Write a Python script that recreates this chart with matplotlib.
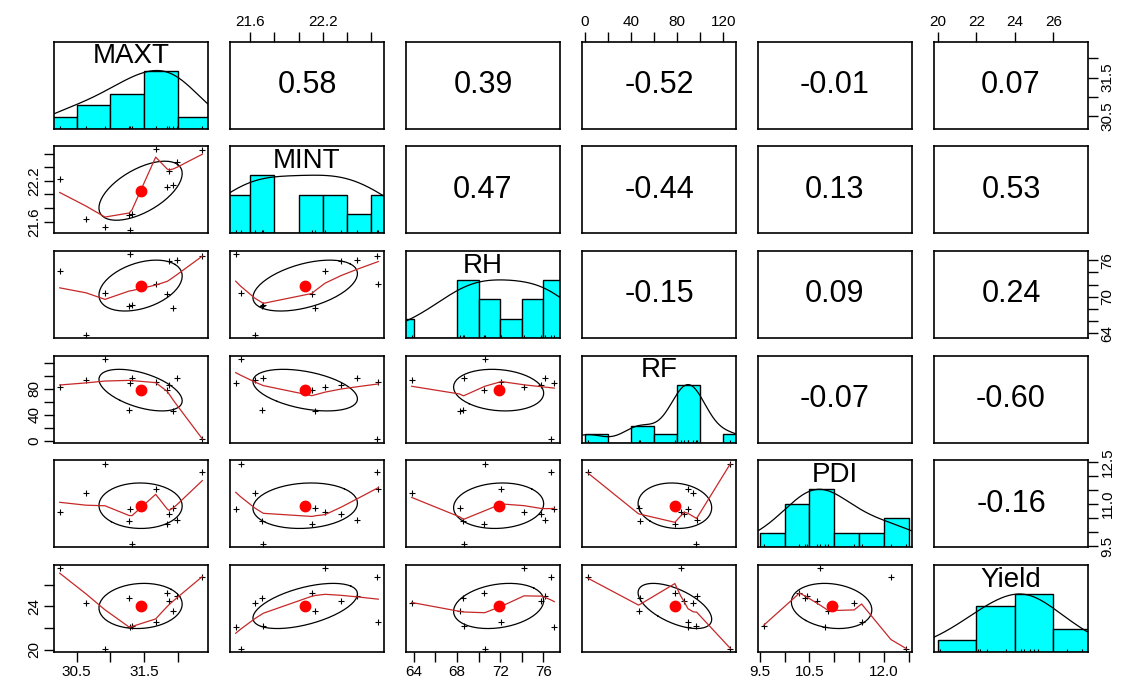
import matplotlib
matplotlib.use("Agg")
import matplotlib.pyplot as plt
import numpy as np

plt.rcParams['font.family'] = ['Liberation Sans', 'DejaVu Sans']

names = ["MAXT", "MINT", "RH", "RF", "PDI", "Yield"]
maxt = [30.25, 30.64, 30.92, 31.28, 31.29, 31.32, 31.67, 31.84, 31.87, 31.93, 31.99, 32.36]
mint = [22.22, 21.64, 21.52, 21.70, 21.48, 21.71, 22.66, 22.11, 22.35, 22.14, 22.48, 22.65]
rh = [74.2, 63.8, 70.6, 68.55, 77.0, 68.6, 72.1, 70.5, 75.8, 68.25, 76.1, 76.65]
rf = [83.0, 94.0, 126.0, 48.0, 89.3, 96.3, 89.7, 78.0, 86.0, 46.5, 96.8, 2.5]
pdi = [10.72, 11.4, 12.45, 10.42, 10.82, 9.58, 11.55, 10.3, 10.65, 10.88, 10.45, 12.14]
yld = [27.5, 24.3, 20.1, 24.78, 22.1, 22.18, 22.54, 25.22, 24.45, 23.55, 24.98, 26.7]

# correlations as printed in the upper panels
cor_text = {
    (0, 1): "0.58", (0, 2): "0.39", (0, 3): "-0.52", (0, 4): "-0.01", (0, 5): "0.07",
    (1, 2): "0.47", (1, 3): "-0.44", (1, 4): "0.13", (1, 5): "0.53",
    (2, 3): "-0.15", (2, 4): "0.09", (2, 5): "0.24",
    (3, 4): "-0.07", (3, 5): "-0.60",
    (4, 5): "-0.16",
}

# axis ticks and the labels R kept on each side
maxt_ticks = [30.5, 31.0, 31.5, 32.0]
maxt_labels = ["30.5", "", "31.5", ""]
mint_ticks = [21.6, 21.8, 22.0, 22.2, 22.4, 22.6]
mint_labels = ["21.6", "", "", "22.2", "", ""]
rh_ticks = [64, 66, 68, 70, 72, 74, 76]
rh_labels_bottom = ["64", "", "68", "", "72", "", "76"]
rh_labels_right = ["64", "", "", "70", "", "", "76"]
rf_ticks = [0, 20, 40, 60, 80, 100, 120]
rf_labels_top = ["0", "", "40", "", "80", "", "120"]
rf_labels_left = ["0", "", "40", "", "80", "", ""]
pdi_ticks = [9.5, 10.0, 10.5, 11.0, 11.5, 12.0, 12.5]
pdi_labels_bottom = ["9.5", "", "10.5", "", "", "12.0", ""]
pdi_labels_right = ["9.5", "", "", "11.0", "", "", "12.5"]
yld_ticks = [20, 22, 24, 26]
yld_labels_top = ["20", "22", "24", "26"]
yld_labels_left = ["20", "", "24", ""]

data = [np.array(v, float) for v in (maxt, mint, rh, rf, pdi, yld)]
ticks = [maxt_ticks, mint_ticks, rh_ticks, rf_ticks, pdi_ticks, yld_ticks]
top_labels = {1: mint_labels, 3: rf_labels_top, 5: yld_labels_top}
bottom_labels = {0: maxt_labels, 2: rh_labels_bottom, 4: pdi_labels_bottom}
right_labels = {0: maxt_labels, 2: rh_labels_right, 4: pdi_labels_right}
left_labels = {1: mint_labels, 3: rf_labels_left, 5: yld_labels_left}


def lowess(x, y, f=2/3, iters=3):
    o = np.argsort(x, kind='stable')
    x = x[o]
    y = y[o]
    n = len(x)
    ns = max(2, min(n, int(f * n + 1e-7)))
    rw = np.ones(n)
    ys = np.zeros(n)
    rng = x[-1] - x[0]
    idx = np.arange(n)
    for it in range(iters + 1):
        nl, nr = 0, ns - 1
        for i in range(n):
            while nr < n - 1 and x[i] - x[nl] > x[nr + 1] - x[i]:
                nl += 1
                nr += 1
            h = max(x[i] - x[nl], x[nr] - x[i])
            r = np.abs(x - x[i])
            m = (r <= 0.999 * h) & (idx >= nl)
            w = np.zeros(n)
            w[m] = np.where(r[m] <= 0.001 * h, 1.0, (1 - (r[m] / h) ** 3) ** 3)
            w *= rw
            a = w.sum()
            if a <= 0:
                ys[i] = y[i]
                continue
            w /= a
            if h > 0:
                a = (w * x).sum()
                b = x[i] - a
                c = (w * (x - a) ** 2).sum()
                if np.sqrt(c) > 0.001 * rng:
                    b /= c
                    w = w * (b * (x - a) + 1)
            ys[i] = (w * y).sum()
        if it == iters:
            break
        res = np.abs(y - ys)
        cmad = 6 * np.median(res)
        if cmad < 1e-7 * np.mean(np.abs(y)):
            break
        rw = np.where(res <= 0.001 * cmad, 1.0,
                      np.where(res <= 0.999 * cmad, (1 - (res / cmad) ** 2) ** 2, 0.0))
    return x, ys


def pretty_breaks(x, ndiv):
    lo, hi = x.min(), x.max()
    cell = (hi - lo) / ndiv
    U = 10 ** np.floor(np.log10(cell))
    unit = U
    if 2 * U - cell < 1.5 * (cell - unit):
        unit = 2 * U
        if 5 * U - cell < 2.75 * (cell - unit):
            unit = 5 * U
            if 10 * U - cell < 1.5 * (cell - unit):
                unit = 10 * U
    ns = np.floor(lo / unit + 1e-7)
    nu = np.ceil(hi / unit - 1e-7)
    return np.arange(ns, nu + 0.5) * unit


def density(x):
    q1, q3 = np.percentile(x, [25, 75])
    bw = 1.06 * min(np.std(x, ddof=1), (q3 - q1) / 1.34) * len(x) ** -0.2 * 1.2
    g = np.linspace(x.min() - 3 * bw, x.max() + 3 * bw, 512)
    d = np.exp(-0.5 * ((g[:, None] - x[None, :]) / bw) ** 2).sum(axis=1)
    return g, d / d.max()


lims = []
for v in data:
    d = v.max() - v.min()
    lims.append((v.min() - 0.04 * d, v.max() + 0.04 * d))

W, H = 1136, 687
fig = plt.figure(figsize=(W / 100, H / 100), dpi=100)
left0, colstep, pw = 54, 176, 154
top0, rowstep, ph = 41.5, 104.7, 87

nv = len(names)
for i in range(nv):
    for j in range(nv):
        x0 = left0 + j * colstep
        y0 = top0 + i * rowstep
        ax = fig.add_axes([x0 / W, 1 - (y0 + ph) / H, pw / W, ph / H])
        for s in ax.spines.values():
            s.set_linewidth(1.2)
        ax.tick_params(which='both', left=False, bottom=False, labelleft=False,
                       labelbottom=False, length=7, width=1, labelsize=11, pad=2)
        ax.set_xlim(lims[j])
        ax.set_ylim(lims[i])
        x = data[j]
        y = data[i]
        if i == j:
            br = pretty_breaks(x, int(np.ceil(np.log2(len(x)) + 1)))
            k = np.searchsorted(br, x, side='left') - 1
            k[k < 0] = 0
            counts = np.bincount(k, minlength=len(br) - 1)
            ax.set_ylim(0, 1.5)
            ax.bar(br[:-1], counts / counts.max(), width=np.diff(br), align='edge',
                   color='#00ffff', edgecolor='black', linewidth=1)
            g, dd = density(x)
            ax.plot(g, dd, color='black', lw=0.9)
            ax.vlines(x, 0, 0.05, color='black', lw=0.8)
            ax.text(0.5, 0.83, names[i], transform=ax.transAxes, ha='center',
                    va='center', fontsize=20)
        elif i < j:
            ax.text(0.5, 0.5, cor_text[(i, j)], transform=ax.transAxes, ha='center',
                    va='center', fontsize=22)
        else:
            ax.plot(x, y, '+', color='black', ms=4, mew=0.8)
            r = np.corrcoef(x, y)[0, 1]
            th = np.sign(r) / np.sqrt(2) if abs(r) > 0 else 1 / np.sqrt(2)
            ang = np.arange(52) * 2 * np.pi / 51
            circ = np.column_stack([np.cos(ang), np.sin(ang)])
            shape = np.diag([np.sqrt(1 + r), np.sqrt(1 - r)]) @ np.array([[th, th], [-th, th]])
            el = circ @ shape
            ax.plot(el[:, 0] * x.std(ddof=1) + x.mean(), el[:, 1] * y.std(ddof=1) + y.mean(),
                    color='black', lw=0.9)
            lx, ly = lowess(x, y)
            ax.plot(lx, ly, color='#c62828', lw=0.9)
            ax.plot(x.mean(), y.mean(), 'o', color='red', ms=7.5)

        if i == 0 and j in top_labels:
            ax.set_xticks(ticks[j], top_labels[j])
            ax.tick_params(axis='x', top=True, labeltop=True, bottom=False, labelbottom=False)
        if i == nv - 1 and j in bottom_labels:
            ax.set_xticks(ticks[j], bottom_labels[j])
            ax.tick_params(axis='x', bottom=True, labelbottom=True)
        if j == nv - 1 and i in right_labels:
            ax.set_yticks(ticks[i], right_labels[i])
            ax.tick_params(axis='y', right=True, labelright=True, left=False,
                           labelleft=False, labelrotation=90)
        if j == 0 and i in left_labels:
            ax.set_yticks(ticks[i], left_labels[i])
            ax.tick_params(axis='y', left=True, labelleft=True, labelrotation=90)
        for lab in ax.get_yticklabels():
            lab.set_verticalalignment('center')
        if not (i == 0 and j in top_labels) and not (i == nv - 1 and j in bottom_labels):
            ax.set_xticks([])
        if not (j == nv - 1 and i in right_labels) and not (j == 0 and i in left_labels):
            ax.set_yticks([])

fig.savefig("out.png", dpi=100, facecolor='white')
